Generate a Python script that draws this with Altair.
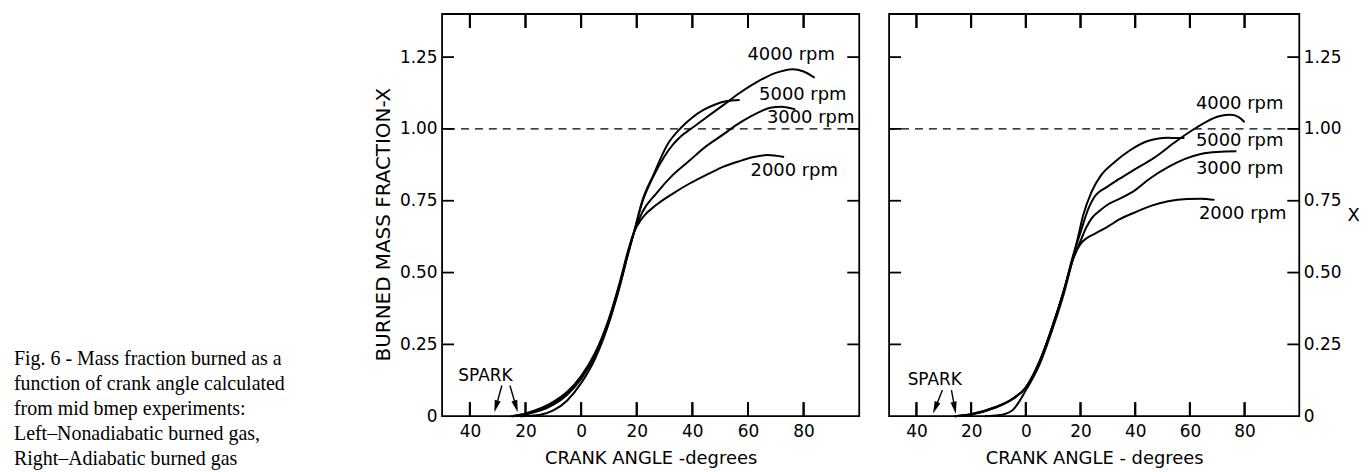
import math
import altair as alt
import pandas as pd

# ---------------- data ----------------
angle_ticks = [-40, -20, 0, 20, 40, 60, 80]
frac_ticks = [0.25, 0.5, 0.75, 1.0, 1.25]
frac_labels = [0, 0.25, 0.5, 0.75, 1.0, 1.25]
reference_level = [1.0]

# Left panel: nonadiabatic burned gas
left_2000_x = [-25, -20, -10, -5, 0, 5, 10, 14, 17, 19, 22, 27, 33, 39, 45, 51, 57, 62, 67, 73]
left_2000_y = [0, 0.01, 0.05, 0.085, 0.14, 0.22, 0.34, 0.47, 0.58, 0.64, 0.69, 0.735, 0.775, 0.81, 0.84, 0.868, 0.888, 0.902, 0.909, 0.902]
left_3000_x = [-25, -20, -10, -5, 0, 5, 10, 14, 17, 19, 22, 27, 33, 39, 45, 51, 56, 61, 65, 68, 72, 77]
left_3000_y = [0, 0.008, 0.045, 0.08, 0.135, 0.215, 0.335, 0.465, 0.575, 0.64, 0.71, 0.775, 0.84, 0.89, 0.94, 0.98, 1.015, 1.044, 1.063, 1.074, 1.077, 1.068]
left_4000_x = [-25, -20, -10, -5, 0, 5, 10, 14, 17, 19, 22, 26, 30, 33, 36, 40, 45, 51, 57, 63, 70, 76, 80, 84]
left_4000_y = [0, 0.006, 0.04, 0.075, 0.13, 0.21, 0.33, 0.46, 0.57, 0.64, 0.745, 0.835, 0.905, 0.945, 0.975, 1.004, 1.04, 1.082, 1.125, 1.162, 1.195, 1.208, 1.2, 1.178]
left_5000_x = [-22, -15, -10, -5, 0, 5, 10, 14, 17, 19, 22, 26, 31, 36, 40, 44, 48, 52, 57]
left_5000_y = [0, 0.004, 0.02, 0.055, 0.115, 0.2, 0.325, 0.455, 0.57, 0.64, 0.75, 0.84, 0.945, 1.005, 1.04, 1.066, 1.084, 1.096, 1.101]

# Right panel: adiabatic burned gas
right_2000_x = [-26, -20, -11, -5, 0, 5, 10, 14, 17, 20, 22, 25, 30, 34, 40, 46, 52, 59, 64, 69]
right_2000_y = [0, 0.007, 0.032, 0.06, 0.10, 0.19, 0.32, 0.44, 0.54, 0.60, 0.618, 0.634, 0.66, 0.684, 0.71, 0.733, 0.748, 0.756, 0.757, 0.753]
right_3000_x = [-26, -20, -11, -5, 0, 5, 10, 14, 17, 20, 22, 24, 27, 30, 35, 40, 45, 52, 58, 64, 70, 77]
right_3000_y = [0, 0.007, 0.032, 0.06, 0.10, 0.19, 0.32, 0.44, 0.54, 0.61, 0.655, 0.688, 0.715, 0.737, 0.76, 0.787, 0.825, 0.867, 0.895, 0.913, 0.92, 0.922]
right_4000_x = [-26, -20, -11, -5, 0, 5, 10, 14, 17, 20, 23, 25, 30, 34, 40, 47, 54, 60, 67, 71, 75, 78, 80]
right_4000_y = [0, 0.006, 0.03, 0.058, 0.10, 0.19, 0.32, 0.44, 0.55, 0.64, 0.725, 0.762, 0.80, 0.825, 0.86, 0.90, 0.95, 0.99, 1.03, 1.045, 1.049, 1.04, 1.023]
right_5000_x = [-15, -10, -5, 0, 5, 10, 14, 17, 19, 21, 24, 27.6, 32.5, 38, 44.6, 48, 52, 55, 58]
right_5000_y = [0, 0.003, 0.02, 0.09, 0.18, 0.31, 0.43, 0.54, 0.62, 0.70, 0.78, 0.84, 0.885, 0.925, 0.958, 0.966, 0.969, 0.968, 0.968]

series_names = ["2000 rpm", "3000 rpm", "4000 rpm", "5000 rpm"]

left_label_text = ["4000 rpm", "5000 rpm", "3000 rpm", "2000 rpm"]
left_label_x = [59.8, 64.0, 66.8, 60.9]
left_label_y = [1.256, 1.118, 1.038, 0.854]
right_label_text = ["4000 rpm", "5000 rpm", "3000 rpm", "2000 rpm"]
right_label_x = [62.2, 62.2, 62.2, 63.3]
right_label_y = [1.087, 0.959, 0.861, 0.704]

spark_text = ["SPARK"]
left_spark_x = [-34.4]
left_spark_y = [0.141]
right_spark_x = [-33.3]
right_spark_y = [0.127]

left_arrow_tail_x = [-28.5, -25.6]
left_arrow_tail_y = [0.107, 0.107]
left_arrow_head_x = [-30.6, -23.4]
left_arrow_head_y = [0.034, 0.034]
right_arrow_tail_x = [-30.5, -27.2]
right_arrow_tail_y = [0.091, 0.091]
right_arrow_head_x = [-33.1, -26.0]
right_arrow_head_y = [0.029, 0.029]

caption_lines = [
    "Fig. 6 - Mass fraction burned as a",
    "function of crank angle calculated",
    "from mid bmep experiments:",
    "Left\u2013Nonadiabatic burned gas,",
    "Right\u2013Adiabatic burned gas",
]

# ---------------- style ----------------
FONT = "DejaVu Sans"
SERIF = "Liberation Serif"
LEFT_W, RIGHT_W, H = 419, 412, 404
X_DOM = [-50, 100]
Y_DOM = [0, 1.4]
TICK_X = 14   # px
TICK_Y = 12   # px
LINE_W = 2.0

x_scale = alt.Scale(domain=X_DOM, nice=False, zero=False)
y_scale = alt.Scale(domain=Y_DOM, nice=False, zero=False)
Y_LABELS = "datum.value == 0 ? '0' : format(datum.value, '.2f')"
X_LABELS = "format(abs(datum.value), 'd')"


def curve_frame(xs_list, ys_list):
    rows = []
    for name, xs, ys in zip(series_names, xs_list, ys_list):
        for a, f in zip(xs, ys):
            rows.append({"angle": a, "frac": f, "rpm": name})
    return pd.DataFrame(rows)


def ytick_frame(width):
    """Inward ticks on the left/right frame, each as a two-point segment."""
    dx = TICK_Y * (X_DOM[1] - X_DOM[0]) / width
    rows = []
    k = 0
    for f in frac_ticks:
        for x0, x1 in ((X_DOM[0], X_DOM[0] + dx), (X_DOM[1], X_DOM[1] - dx)):
            rows += [{"angle": x0, "frac": f, "tick": k}, {"angle": x1, "frac": f, "tick": k}]
            k += 1
    return pd.DataFrame(rows)


def xtick_frame():
    """Inward ticks on the bottom/top frame: start, end and centre of each."""
    full = TICK_X * (Y_DOM[1] - Y_DOM[0]) / H
    rows = []
    for a in angle_ticks:
        rows.append({"angle": a, "f0": Y_DOM[0], "f1": Y_DOM[0] + full,
                     "frac": Y_DOM[0] + full / 2})
        rows.append({"angle": a, "f0": Y_DOM[1], "f1": Y_DOM[1] - full,
                     "frac": Y_DOM[1] - full / 2})
    return pd.DataFrame(rows)


def arrow_frame(tx, ty, hx, hy, width):
    sx = width / (X_DOM[1] - X_DOM[0])
    sy = H / (Y_DOM[1] - Y_DOM[0])
    rows = []
    for a, b, c, d in zip(tx, ty, hx, hy):
        dx = (c - a) * sx
        dy = -(d - b) * sy
        ang = math.degrees(math.atan2(-dx, dy)) % 360
        rows.append({"tx": a, "ty": b, "hx": c, "hy": d, "ang": ang})
    return pd.DataFrame(rows)


def axis(orient, values, label_expr, title, pad, **kw):
    return alt.Axis(
        orient=orient, values=values, ticks=False, tickSize=0, domain=False, grid=False,
        labelExpr=label_expr, labelFont=FONT, labelFontSize=17, labelColor="black",
        labelPadding=pad, title=title, titleFont=FONT, titleFontWeight="normal",
        titleColor="black", **kw)


def panel(curves, width, lab_text, lab_x, lab_y, spark_x, spark_y, arrows, left_side):
    x_axis = axis("bottom", angle_ticks, X_LABELS,
                  "CRANK ANGLE -degrees" if left_side else "CRANK ANGLE - degrees",
                  7, titleFontSize=18, titlePadding=10)
    if left_side:
        y_axis = axis("left", frac_labels, Y_LABELS, "BURNED MASS FRACTION-X", 5,
                      titleFontSize=20, titleAngle=270, titleAlign="center",
                      titleBaseline="middle", titleX=-59, titleY=211)
    else:
        y_axis = axis("right", frac_labels, Y_LABELS, "X", 4,
                      titleFontSize=18, titleAngle=0, titleAlign="center",
                      titleBaseline="middle", titleX=54, titleY=H / 2)

    def X(field):
        return alt.X(field, scale=x_scale, axis=x_axis)

    def Y(field):
        return alt.Y(field, scale=y_scale, axis=y_axis)

    lines = alt.Chart(curves).mark_line(
        color="black", strokeWidth=LINE_W, interpolate="monotone"
    ).encode(x=X("angle:Q"), y=Y("frac:Q"), detail="rpm:N")

    yticks = alt.Chart(ytick_frame(width)).mark_line(
        color="black", strokeWidth=1.8, interpolate="linear"
    ).encode(x=X("angle:Q"), y=Y("frac:Q"), detail="tick:N")
    xt = xtick_frame()
    xticks_rule = alt.Chart(xt).mark_rule(color="black", strokeWidth=2.0).encode(
        x=X("angle:Q"), y=Y("f0:Q"), y2="f1:Q")
    xticks_bar = alt.Chart(xt).mark_tick(
        orient="vertical", size=TICK_X, thickness=2, color="black", opacity=1
    ).encode(x=X("angle:Q"), y=Y("frac:Q"))

    ref = alt.Chart(pd.DataFrame({"frac": reference_level})).mark_rule(
        color="black", strokeWidth=1.3, strokeDash=[8, 6]
    ).encode(y=Y("frac:Q"))
    labels = alt.Chart(pd.DataFrame({"t": lab_text, "angle": lab_x, "frac": lab_y})).mark_text(
        align="left", baseline="middle", font=FONT, fontSize=18, color="black"
    ).encode(x=X("angle:Q"), y=Y("frac:Q"), text="t:N")
    spark = alt.Chart(pd.DataFrame({"t": spark_text, "angle": spark_x, "frac": spark_y})).mark_text(
        align="center", baseline="middle", font=FONT, fontSize=17, color="black"
    ).encode(x=X("angle:Q"), y=Y("frac:Q"), text="t:N")
    shafts = alt.Chart(arrows).mark_rule(color="black", strokeWidth=1.4).encode(
        x=X("tx:Q"), y=Y("ty:Q"), x2="hx:Q", y2="hy:Q")
    heads = alt.Chart(arrows).mark_point(
        shape="M-0.5,-1L0.5,-1L0,1Z", filled=True, color="black", opacity=1, size=150
    ).encode(x=X("hx:Q"), y=Y("hy:Q"), angle=alt.Angle("ang:Q", scale=None))
    layers = [lines, yticks, xticks_rule, xticks_bar, ref, labels, spark, shafts, heads]
    if left_side:
        cap = alt.Chart(pd.DataFrame({"k": [0]})).mark_text(
            text=caption_lines, align="left", baseline="top", font=SERIF,
            fontSize=20, lineHeight=25, color="black"
        ).encode(x=alt.value(-430), y=alt.value(337))
        layers.append(cap)
    return alt.layer(*layers).properties(width=width, height=H)


left = panel(
    curve_frame([left_2000_x, left_3000_x, left_4000_x, left_5000_x],
                [left_2000_y, left_3000_y, left_4000_y, left_5000_y]),
    LEFT_W, left_label_text, left_label_x, left_label_y, left_spark_x, left_spark_y,
    arrow_frame(left_arrow_tail_x, left_arrow_tail_y, left_arrow_head_x, left_arrow_head_y, LEFT_W),
    True,
)
right = panel(
    curve_frame([right_2000_x, right_3000_x, right_4000_x, right_5000_x],
                [right_2000_y, right_3000_y, right_4000_y, right_5000_y]),
    RIGHT_W, right_label_text, right_label_x, right_label_y, right_spark_x, right_spark_y,
    arrow_frame(right_arrow_tail_x, right_arrow_tail_y, right_arrow_head_x, right_arrow_head_y, RIGHT_W),
    False,
)

chart = alt.hconcat(left, right, spacing=20).properties(
    padding={"left": 5, "top": 3, "right": 0, "bottom": 0},
    background="white",
).configure_view(stroke="black", strokeWidth=1.8)

chart.save("out.html", embed_options={"renderer": "svg", "actions": False})
